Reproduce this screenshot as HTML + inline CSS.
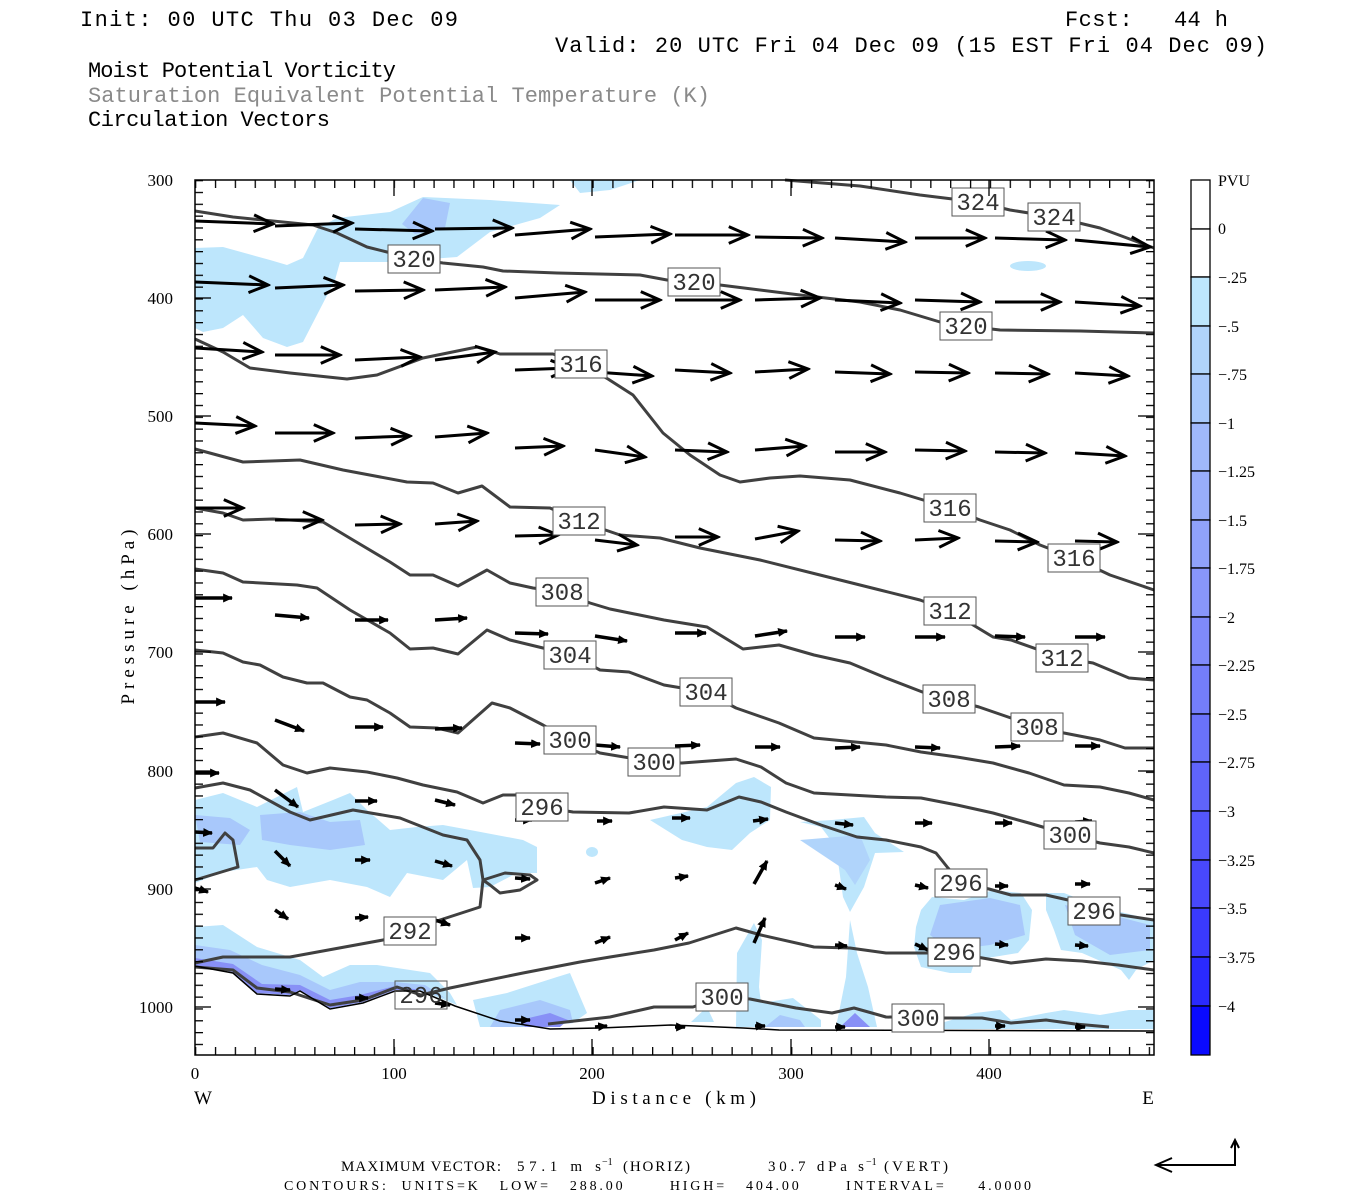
<!DOCTYPE html>
<html><head><meta charset="utf-8"><style>
html,body{margin:0;padding:0;background:#fff;}
svg{display:block;}
text{white-space:pre;}
.t{font-family:"Liberation Mono",monospace;fill:#000;}
.c{fill:none;stroke:#404040;stroke-width:3;stroke-linejoin:round;}
.lb{fill:#fff;stroke:#555;stroke-width:1;}
.lt{font-family:"Liberation Mono",monospace;font-size:24px;fill:#333;text-anchor:middle;}
.ab{stroke:#000;stroke-width:3;marker-end:url(#hb);}
.as{stroke:#000;stroke-width:3.5;marker-end:url(#hs);}
.ax{font-family:"Liberation Serif",serif;font-size:17px;fill:#000;}
</style></head><body>
<svg width="1350" height="1200" viewBox="0 0 1350 1200" xmlns="http://www.w3.org/2000/svg" xml:space="preserve">
<defs>
<marker id="hb" markerUnits="userSpaceOnUse" markerWidth="24" markerHeight="24" refX="18" refY="8" orient="auto" viewBox="0 0 20 16">
<path d="M2,1 L18,8 L2,15" fill="none" stroke="#000" stroke-width="2.5"/></marker>
<marker id="hs" markerUnits="userSpaceOnUse" markerWidth="10" markerHeight="10" refX="8" refY="4" orient="auto" viewBox="0 0 9 8">
<path d="M0,0 L9,4 L0,8 Z" fill="#000"/></marker>
<pattern id="py" patternUnits="userSpaceOnUse" x="0" y="180" width="20" height="11.833"><rect x="0" y="0" width="20" height="1.3" fill="#000"/></pattern>
<pattern id="px" patternUnits="userSpaceOnUse" x="195" y="0" width="19.87" height="20"><rect x="0" y="0" width="1.3" height="20" fill="#000"/></pattern>
</defs>

<text class="t" x="80" y="26" font-size="22" textLength="378" lengthAdjust="spacing">Init: 00 UTC Thu 03 Dec 09</text>
<text class="t" x="1065" y="26" font-size="22" textLength="163" lengthAdjust="spacing">Fcst:   44 h</text>
<text class="t" x="555" y="52" font-size="22" textLength="712" lengthAdjust="spacing">Valid: 20 UTC Fri 04 Dec 09 (15 EST Fri 04 Dec 09)</text>
<text class="t" x="88" y="77" font-size="22" textLength="308" lengthAdjust="spacing">Moist Potential Vorticity</text>
<text class="t" x="88" y="102" font-size="22" textLength="622" lengthAdjust="spacing" style="fill:#8a8a8a">Saturation Equivalent Potential Temperature (K)</text>
<text class="t" x="88" y="126" font-size="22" textLength="242" lengthAdjust="spacing">Circulation Vectors</text>

<g fill="#bde6fc">
<path d="M195,248 L223,247 L270,260 L287,265 L303,258 L318,228 L337,218 L390,212 L423,197 L490,200 L560,205 L540,218 L490,232 L457,257 L390,262 L340,262 L335,280 L303,342 L287,347 L263,338 L243,315 L223,328 L203,332 L195,328 Z"/>
<path d="M570,180 L640,180 L610,190 L580,193 Z"/>
<ellipse cx="1028" cy="266" rx="18" ry="5"/>
<path d="M195,800 L223,793 L257,807 L297,787 L303,812 L333,800 L350,793 L367,810 L390,830 L417,827 L443,825 L470,830 L523,840 L537,847 L537,873 L517,873 L490,887 L473,888 L467,860 L443,880 L407,873 L390,897 L367,887 L330,880 L290,887 L267,880 L257,867 L223,872 L195,883 Z"/>
<ellipse cx="592" cy="852" rx="6" ry="5"/>
<path d="M650,820 L707,807 L736,783 L754,777 L771,787 L770,820 L750,833 L732,850 L707,847 L682,840 Z"/>
<path d="M800,822 L832,820 L864,817 L875,833 L904,852 L875,853 L864,887 L850,912 L843,897 L836,847 L821,827 Z"/>
<path d="M850,920 L857,953 L868,987 L877,1027 L836,1027 L846,977 Z"/>
<path d="M754,923 L762,940 L759,987 L761,1003 L793,998 L821,1020 L821,1027 L736,1027 L737,953 Z"/>
<path d="M691,1022 L707,1007 L714,1022 Z"/>
<path d="M921,910 L932,897 L964,900 L993,890 L1021,893 L1032,910 L1029,940 L1018,953 L975,960 L971,973 L950,973 L921,967 L914,947 L916,927 Z"/>
<path d="M1046,893 L1064,893 L1100,907 L1154,920 L1154,960 L1136,970 L1129,980 L1121,970 L1082,953 L1061,950 L1054,930 L1046,910 Z"/>
<path d="M921,1029 L975,1013 L1000,1010 L1011,1020 L1046,1013 L1064,1010 L1100,1015 L1129,1010 L1154,1010 L1154,1029 Z"/>
<path d="M195,927 L223,925 L257,947 L300,960 L323,977 L350,965 L377,965 L397,968 L430,973 L450,993 L457,1005 L420,990 L395,990 L363,1002 L330,1008 L300,990 L290,995 L257,993 L233,972 L195,965 Z"/>
<path d="M473,1000 L507,993 L557,977 L570,973 L587,1013 L573,1023 L523,1027 L480,1027 Z"/>
</g>
<g fill="#a8c8fb">
<path d="M423,198 L450,203 L445,228 L415,234 L402,224 Z"/>
<path d="M195,815 L230,818 L250,830 L240,845 L200,842 Z"/>
<path d="M260,815 L300,812 L330,822 L360,820 L365,845 L330,850 L290,845 L262,840 Z"/>
<path d="M800,840 L860,835 L870,860 L855,885 L845,870 Z" fill="#b0d4fb"/>
<path d="M940,905 L990,898 L1020,905 L1025,935 L990,945 L950,950 L930,935 Z"/>
<path d="M1065,905 L1100,912 L1150,925 L1150,950 L1110,955 L1075,935 Z"/>
<path d="M195,945 L230,950 L262,965 L300,975 L330,990 L360,982 L395,982 L425,985 L445,998 L420,990 L395,990 L363,1002 L330,1008 L300,990 L290,995 L257,993 L233,972 L195,965 Z"/>
<path d="M500,1010 L540,1000 L570,1010 L573,1023 L523,1027 L490,1027 Z"/>
<path d="M765,1027 L780,1015 L800,1020 L805,1027 Z"/>
</g>
<g fill="#8890f6">
<path d="M195,958 L233,964 L262,984 L300,985 L330,1000 L360,995 L395,986 L420,990 L395,990 L363,1002 L330,1008 L300,990 L290,995 L257,993 L233,972 L195,965 Z"/>
<path d="M520,1020 L550,1013 L568,1020 L560,1027 L525,1027 Z"/>
<path d="M840,1027 L855,1013 L870,1027 Z"/>
</g>

<g class="c">
<polyline points="785,180 860,186 920,195 977,202 1010,210 1054,217 1100,228 1154,248"/>
<polyline points="195,211 233,217 313,225 337,233 367,247 387,252 415,259 443,263 483,267 503,271 557,273 640,275 667,280 694,282 720,285 800,295 860,302 900,310 940,322 966,326 1000,330 1080,331 1154,333"/>
<polyline points="195,339 223,352 250,368 290,373 347,379 377,375 423,358 477,347 500,354 553,354 581,364 608,379 633,395 663,433 690,455 720,475 740,482 770,478 800,476 850,480 900,493 950,508 980,520 1010,530 1040,545 1074,558 1110,575 1154,590"/>
<polyline points="195,449 243,462 300,460 343,470 407,482 433,483 458,493 482,486 510,507 550,508 579,521 620,535 660,538 700,548 760,560 820,575 880,590 920,600 950,611 993,637 1011,640 1062,658 1093,663 1129,678 1154,680"/>
<polyline points="195,508 223,513 243,520 273,519 323,522 353,540 390,562 410,575 433,575 458,586 487,570 510,583 533,588 562,592 590,603 610,609 664,620 707,627 743,649 779,645 814,655 850,663 886,678 925,693 949,699 979,707 1011,718 1037,727 1064,733 1100,740 1125,748 1154,748"/>
<polyline points="195,569 223,573 243,582 297,585 317,588 350,610 390,633 410,649 433,648 458,654 487,630 510,640 543,648 570,654 600,670 629,672 664,685 706,692 736,708 779,723 814,738 886,745 921,752 957,757 993,763 1029,773 1064,785 1100,787 1129,793 1154,800"/>
<polyline points="195,650 223,653 243,662 260,665 283,677 307,683 323,683 350,697 367,700 390,713 410,727 437,728 458,733 492,703 510,708 543,725 570,740 600,753 654,762 682,763 736,759 761,767 786,783 814,793 886,797 921,798 957,805 993,813 1029,823 1070,835 1100,843 1129,847 1154,853"/>
<polyline points="195,737 223,733 257,743 283,765 307,773 330,768 367,772 397,778 423,785 457,792 483,803 503,795 517,795 542,807 573,812 629,813 664,807 707,810 739,797 761,802 786,812 821,825 857,837 886,840 921,847 936,853 948,868 961,883 989,889 1011,895 1046,895 1068,900 1094,911 1121,915 1154,920"/>
<polyline points="195,788 223,783 250,790 290,812 310,820 353,810 400,818 443,835 467,840 480,860 483,880 505,873 530,875 537,880 520,890 500,893 490,885 483,880 480,907 440,920 410,931 383,940 290,957 223,957 195,963"/>
<polyline points="195,848 213,848 225,833 233,840 238,867 195,880"/>
<polyline points="195,967 233,970 257,988 290,992 330,1005 363,1000 397,987 421,995 450,988 523,973 580,962 610,957 654,950 689,943 736,928 761,935 814,947 850,948 886,953 954,953 1011,963 1046,959 1082,961 1118,965 1154,970"/>
<polyline points="548,1024 610,1017 654,1007 693,1007 722,997 750,999 796,1008 832,1013 854,1008 886,1017 946,1018 982,1018 1011,1023 1046,1020 1075,1024 1109,1027"/>
</g>
<polyline points="195,966 233,973 257,994 290,996 300,991 330,1009 363,1003 395,991 420,991 455,1006 500,1021 550,1029 600,1028 671,1025 743,1028 779,1030 1154,1031" fill="none" stroke="#000" stroke-width="1.5"/>

<g class="ab">
<line x1="195" y1="221" x2="273" y2="224"/><line x1="275" y1="226" x2="352" y2="223"/><line x1="355" y1="229" x2="432" y2="231"/><line x1="435" y1="229" x2="512" y2="228"/><line x1="515" y1="235" x2="590" y2="229"/><line x1="595" y1="237" x2="670" y2="234"/><line x1="675" y1="235" x2="748" y2="235"/><line x1="755" y1="237" x2="822" y2="238"/><line x1="835" y1="238" x2="905" y2="242"/><line x1="915" y1="238" x2="985" y2="238"/><line x1="995" y1="238" x2="1065" y2="240"/><line x1="1075" y1="240" x2="1150" y2="247"/>
<line x1="195" y1="282" x2="268" y2="285"/><line x1="275" y1="288" x2="343" y2="285"/><line x1="355" y1="291" x2="423" y2="290"/><line x1="435" y1="290" x2="505" y2="287"/><line x1="515" y1="298" x2="585" y2="292"/><line x1="595" y1="300" x2="660" y2="300"/><line x1="675" y1="300" x2="740" y2="300"/><line x1="755" y1="300" x2="820" y2="298"/><line x1="835" y1="300" x2="900" y2="303"/><line x1="915" y1="300" x2="980" y2="302"/><line x1="995" y1="302" x2="1060" y2="302"/><line x1="1075" y1="302" x2="1140" y2="306"/>
<line x1="195" y1="348" x2="262" y2="352"/><line x1="275" y1="355" x2="340" y2="355"/><line x1="355" y1="360" x2="420" y2="357"/><line x1="435" y1="360" x2="495" y2="352"/><line x1="515" y1="370" x2="570" y2="368"/><line x1="595" y1="372" x2="652" y2="376"/><line x1="675" y1="370" x2="730" y2="373"/><line x1="755" y1="372" x2="808" y2="369"/><line x1="835" y1="372" x2="890" y2="374"/><line x1="915" y1="372" x2="968" y2="373"/><line x1="995" y1="373" x2="1048" y2="374"/><line x1="1075" y1="373" x2="1128" y2="376"/>
<line x1="195" y1="423" x2="255" y2="426"/><line x1="275" y1="433" x2="333" y2="433"/><line x1="355" y1="438" x2="410" y2="436"/><line x1="435" y1="437" x2="487" y2="433"/><line x1="515" y1="448" x2="563" y2="446"/><line x1="595" y1="450" x2="645" y2="457"/><line x1="675" y1="450" x2="727" y2="452"/><line x1="755" y1="450" x2="805" y2="446"/><line x1="835" y1="452" x2="885" y2="452"/><line x1="915" y1="450" x2="965" y2="451"/><line x1="995" y1="452" x2="1045" y2="453"/><line x1="1075" y1="453" x2="1125" y2="456"/>
<line x1="195" y1="508" x2="243" y2="508"/><line x1="275" y1="520" x2="322" y2="520"/><line x1="355" y1="525" x2="400" y2="524"/><line x1="435" y1="524" x2="477" y2="521"/><line x1="515" y1="536" x2="558" y2="535"/><line x1="595" y1="540" x2="637" y2="545"/><line x1="675" y1="537" x2="718" y2="537"/><line x1="755" y1="539" x2="798" y2="531"/><line x1="835" y1="540" x2="880" y2="541"/><line x1="915" y1="540" x2="958" y2="538"/><line x1="995" y1="541" x2="1037" y2="542"/><line x1="1075" y1="541" x2="1117" y2="542"/>
</g>
<g class="as">
<line x1="195" y1="598" x2="232" y2="598"/><line x1="275" y1="615" x2="309" y2="618"/><line x1="355" y1="620" x2="388" y2="620"/><line x1="435" y1="620" x2="467" y2="618"/><line x1="515" y1="633" x2="548" y2="634"/><line x1="595" y1="636" x2="627" y2="641"/><line x1="675" y1="633" x2="706" y2="633"/><line x1="755" y1="636" x2="787" y2="631"/><line x1="835" y1="637" x2="865" y2="637"/><line x1="915" y1="637" x2="945" y2="637"/><line x1="995" y1="636" x2="1025" y2="637"/><line x1="1075" y1="637" x2="1105" y2="637"/>
<line x1="195" y1="702" x2="225" y2="702"/><line x1="275" y1="720" x2="304" y2="731"/><line x1="355" y1="727" x2="383" y2="727"/><line x1="435" y1="729" x2="462" y2="728"/><line x1="515" y1="743" x2="540" y2="744"/><line x1="595" y1="745" x2="620" y2="747"/><line x1="675" y1="746" x2="700" y2="745"/><line x1="755" y1="747" x2="780" y2="747"/><line x1="835" y1="748" x2="860" y2="747"/><line x1="915" y1="747" x2="940" y2="748"/><line x1="995" y1="747" x2="1020" y2="746"/><line x1="1075" y1="746" x2="1100" y2="746"/>
<line x1="195" y1="773" x2="219" y2="773"/><line x1="275" y1="790" x2="298" y2="807"/><line x1="355" y1="801" x2="377" y2="801"/><line x1="435" y1="800" x2="455" y2="805"/><line x1="515" y1="820" x2="532" y2="820"/><line x1="597" y1="821" x2="612" y2="821"/><line x1="672" y1="818" x2="690" y2="818"/><line x1="753" y1="821" x2="768" y2="819"/><line x1="835" y1="823" x2="853" y2="825"/><line x1="915" y1="823" x2="932" y2="823"/><line x1="995" y1="823" x2="1012" y2="823"/><line x1="1075" y1="822" x2="1092" y2="821"/>
<line x1="195" y1="832" x2="212" y2="833"/><line x1="275" y1="851" x2="290" y2="866"/><line x1="355" y1="860" x2="370" y2="860"/><line x1="435" y1="861" x2="452" y2="866"/><line x1="515" y1="878" x2="530" y2="879"/><line x1="595" y1="883" x2="610" y2="878"/><line x1="675" y1="878" x2="688" y2="876"/><line x1="754" y1="884" x2="767" y2="861"/><line x1="835" y1="885" x2="846" y2="889"/><line x1="915" y1="885" x2="928" y2="888"/><line x1="995" y1="886" x2="1008" y2="886"/><line x1="1075" y1="884" x2="1090" y2="884"/>
<line x1="195" y1="888" x2="208" y2="892"/><line x1="275" y1="910" x2="288" y2="919"/><line x1="355" y1="918" x2="368" y2="917"/><line x1="435" y1="920" x2="450" y2="925"/><line x1="515" y1="938" x2="530" y2="938"/><line x1="595" y1="943" x2="610" y2="937"/><line x1="675" y1="940" x2="688" y2="933"/><line x1="754" y1="943" x2="765" y2="918"/><line x1="835" y1="945" x2="847" y2="946"/><line x1="915" y1="944" x2="928" y2="950"/><line x1="995" y1="944" x2="1008" y2="945"/><line x1="1075" y1="945" x2="1088" y2="946"/>
<line x1="275" y1="989" x2="290" y2="990"/><line x1="355" y1="998" x2="368" y2="998"/><line x1="435" y1="1003" x2="450" y2="1005"/><line x1="515" y1="1020" x2="530" y2="1020"/><line x1="595" y1="1027" x2="607" y2="1026"/><line x1="675" y1="1027" x2="685" y2="1027"/><line x1="755" y1="1026" x2="765" y2="1026"/><line x1="835" y1="1027" x2="845" y2="1027"/><line x1="915" y1="1026" x2="925" y2="1027"/><line x1="995" y1="1026" x2="1005" y2="1026"/><line x1="1075" y1="1027" x2="1085" y2="1027"/>
</g>

<g>
<rect class="lb" x="952" y="188" width="52" height="28"/><text class="lt" x="978" y="210">324</text>
<rect class="lb" x="1028" y="203" width="52" height="28"/><text class="lt" x="1054" y="225">324</text>
<rect class="lb" x="388" y="245" width="52" height="28"/><text class="lt" x="414" y="267">320</text>
<rect class="lb" x="668" y="268" width="52" height="28"/><text class="lt" x="694" y="290">320</text>
<rect class="lb" x="940" y="312" width="52" height="28"/><text class="lt" x="966" y="334">320</text>
<rect class="lb" x="555" y="350" width="52" height="28"/><text class="lt" x="581" y="372">316</text>
<rect class="lb" x="924" y="494" width="52" height="28"/><text class="lt" x="950" y="516">316</text>
<rect class="lb" x="1048" y="544" width="52" height="28"/><text class="lt" x="1074" y="566">316</text>
<rect class="lb" x="553" y="507" width="52" height="28"/><text class="lt" x="579" y="529">312</text>
<rect class="lb" x="924" y="597" width="52" height="28"/><text class="lt" x="950" y="619">312</text>
<rect class="lb" x="1036" y="644" width="52" height="28"/><text class="lt" x="1062" y="666">312</text>
<rect class="lb" x="536" y="578" width="52" height="28"/><text class="lt" x="562" y="600">308</text>
<rect class="lb" x="923" y="685" width="52" height="28"/><text class="lt" x="949" y="707">308</text>
<rect class="lb" x="1011" y="713" width="52" height="28"/><text class="lt" x="1037" y="735">308</text>
<rect class="lb" x="544" y="641" width="52" height="28"/><text class="lt" x="570" y="663">304</text>
<rect class="lb" x="680" y="678" width="52" height="28"/><text class="lt" x="706" y="700">304</text>
<rect class="lb" x="544" y="726" width="52" height="28"/><text class="lt" x="570" y="748">300</text>
<rect class="lb" x="628" y="748" width="52" height="28"/><text class="lt" x="654" y="770">300</text>
<rect class="lb" x="1044" y="821" width="52" height="28"/><text class="lt" x="1070" y="843">300</text>
<rect class="lb" x="516" y="793" width="52" height="28"/><text class="lt" x="542" y="815">296</text>
<rect class="lb" x="935" y="869" width="52" height="28"/><text class="lt" x="961" y="891">296</text>
<rect class="lb" x="1068" y="897" width="52" height="28"/><text class="lt" x="1094" y="919">296</text>
<rect class="lb" x="384" y="917" width="52" height="28"/><text class="lt" x="410" y="939">292</text>
<rect class="lb" x="928" y="938" width="52" height="28"/><text class="lt" x="954" y="960">296</text>
<rect class="lb" x="395" y="981" width="52" height="28" style="fill:none"/><text class="lt" x="421" y="1003">296</text>
<rect class="lb" x="696" y="983" width="52" height="28"/><text class="lt" x="722" y="1005">300</text>
<rect class="lb" x="892" y="1004" width="52" height="28"/><text class="lt" x="918" y="1026">300</text>
</g>

<rect x="195" y="180" width="959" height="875" fill="none" stroke="#000" stroke-width="1.5"/>
<rect x="195" y="180" width="8" height="875" fill="url(#py)"/>
<rect x="1146" y="180" width="8" height="875" fill="url(#py)"/>
<rect x="195" y="180" width="959" height="8" fill="url(#px)"/>
<rect x="195" y="1047" width="959" height="8" fill="url(#px)"/>
<g stroke="#000" stroke-width="1.3">
<line x1="195" y1="298" x2="211" y2="298"/><line x1="195" y1="416" x2="211" y2="416"/><line x1="195" y1="534" x2="211" y2="534"/><line x1="195" y1="652" x2="211" y2="652"/><line x1="195" y1="771" x2="211" y2="771"/><line x1="195" y1="889" x2="211" y2="889"/><line x1="195" y1="1007" x2="211" y2="1007"/>
<line x1="1138" y1="298" x2="1154" y2="298"/><line x1="1138" y1="416" x2="1154" y2="416"/><line x1="1138" y1="534" x2="1154" y2="534"/><line x1="1138" y1="652" x2="1154" y2="652"/><line x1="1138" y1="771" x2="1154" y2="771"/><line x1="1138" y1="889" x2="1154" y2="889"/><line x1="1138" y1="1007" x2="1154" y2="1007"/>
<line x1="394" y1="1039" x2="394" y2="1055"/><line x1="592" y1="1039" x2="592" y2="1055"/><line x1="791" y1="1039" x2="791" y2="1055"/><line x1="989" y1="1039" x2="989" y2="1055"/>
<line x1="394" y1="180" x2="394" y2="196"/><line x1="592" y1="180" x2="592" y2="196"/><line x1="791" y1="180" x2="791" y2="196"/><line x1="989" y1="180" x2="989" y2="196"/>
</g>

<g class="ax" text-anchor="end">
<text x="173" y="186">300</text><text x="173" y="304">400</text><text x="173" y="422">500</text><text x="173" y="540">600</text><text x="173" y="658">700</text><text x="173" y="777">800</text><text x="173" y="895">900</text><text x="173" y="1013">1000</text>
</g>
<text class="ax" transform="translate(134,617) rotate(-90)" text-anchor="middle" style="font-size:19px" textLength="175" lengthAdjust="spacing">Pressure (hPa)</text>
<g class="ax" text-anchor="middle">
<text x="195" y="1079">0</text><text x="394" y="1079">100</text><text x="592" y="1079">200</text><text x="791" y="1079">300</text><text x="989" y="1079">400</text>
<text x="203" y="1104" style="font-size:19px">W</text>
<text x="674" y="1104" style="font-size:19px" textLength="164" lengthAdjust="spacing">Distance (km)</text>
<text x="1148" y="1104" style="font-size:19px">E</text>
</g>

<g stroke="#000" stroke-width="1.3">
<rect x="1191" y="180" width="19" height="49" fill="#fff"/>
<rect x="1191" y="229" width="19" height="48" fill="#fff"/>
<rect x="1191" y="277" width="19" height="49" fill="#bde6fc"/>
<rect x="1191" y="326" width="19" height="48" fill="#b0d4fb"/>
<rect x="1191" y="374" width="19" height="49" fill="#a8c8fb"/>
<rect x="1191" y="423" width="19" height="48" fill="#a0b8fb"/>
<rect x="1191" y="471" width="19" height="49" fill="#98adfa"/>
<rect x="1191" y="520" width="19" height="48" fill="#90a2fa"/>
<rect x="1191" y="568" width="19" height="49" fill="#8896fa"/>
<rect x="1191" y="617" width="19" height="48" fill="#7f8afa"/>
<rect x="1191" y="665" width="19" height="49" fill="#747efa"/>
<rect x="1191" y="714" width="19" height="48" fill="#6a72fa"/>
<rect x="1191" y="762" width="19" height="49" fill="#5f64fb"/>
<rect x="1191" y="811" width="19" height="49" fill="#5456fc"/>
<rect x="1191" y="860" width="19" height="48" fill="#4848fc"/>
<rect x="1191" y="908" width="19" height="49" fill="#3a3afd"/>
<rect x="1191" y="957" width="19" height="49" fill="#2a2afe"/>
<rect x="1191" y="1006" width="19" height="49" fill="#0a0aff"/>
</g>
<g class="ax" style="font-size:16px">
<text x="1218" y="186">PVU</text><text x="1218" y="234">0</text><text x="1218" y="283">−.25</text><text x="1218" y="332">−.5</text><text x="1218" y="380">−.75</text><text x="1218" y="429">−1</text><text x="1218" y="477">−1.25</text><text x="1218" y="526">−1.5</text><text x="1218" y="574">−1.75</text><text x="1218" y="623">−2</text><text x="1218" y="671">−2.25</text><text x="1218" y="720">−2.5</text><text x="1218" y="768">−2.75</text><text x="1218" y="817">−3</text><text x="1218" y="866">−3.25</text><text x="1218" y="914">−3.5</text><text x="1218" y="963">−3.75</text><text x="1218" y="1012">−4</text>
</g>

<g class="ax" style="font-size:15px">
<text x="341" y="1171" textLength="160" lengthAdjust="spacing">MAXIMUM VECTOR:</text>
<text x="517" y="1171" textLength="84" lengthAdjust="spacing">57.1 m s</text>
<text x="602" y="1165" style="font-size:10px">−1</text>
<text x="623" y="1171" textLength="67" lengthAdjust="spacing">(HORIZ)</text>
<text x="768" y="1171" textLength="96" lengthAdjust="spacing">30.7 dPa s</text>
<text x="866" y="1165" style="font-size:10px">−1</text>
<text x="884" y="1171" textLength="64" lengthAdjust="spacing">(VERT)</text>
</g>
<text class="ax" x="284" y="1190" style="font-size:14px" textLength="747" lengthAdjust="spacing">CONTOURS:  UNITS=K   LOW=   288.00       HIGH=   404.00       INTERVAL=     4.0000</text>
<g stroke="#000" stroke-width="2" fill="none">
<polyline points="1235,1140 1235,1165 1157,1165"/>
<polyline points="1172,1158 1156,1165 1172,1172"/>
<polyline points="1231,1148 1235,1140 1239,1148"/>
</g>
</svg>
</body></html>
